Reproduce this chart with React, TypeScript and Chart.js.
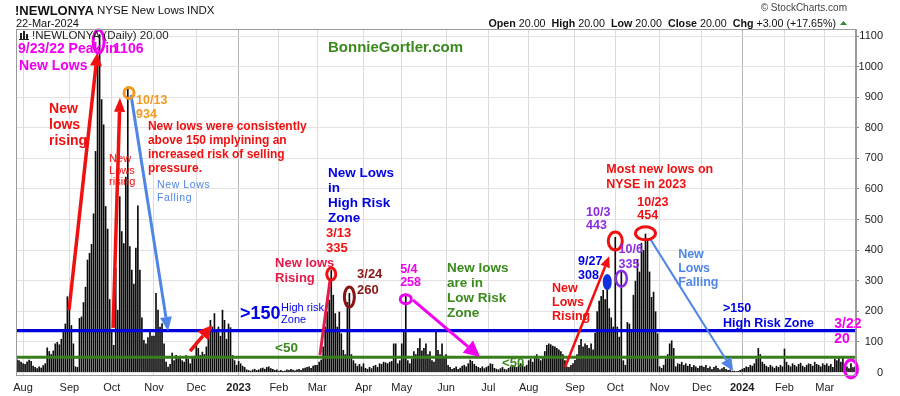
import React, { useEffect, useRef } from "react";
import { Chart, registerables } from "chart.js";

Chart.register(...registerables);

const FONT = "'Liberation Sans', Arial, Helvetica, sans-serif";

// ---------------- data: NYSE new lows, daily (one array per month) ----------------
const jul22 = [43, 40, 35];
const aug22 = [30, 28, 36, 42, 38, 22, 18, 14, 20, 16, 24, 30, 82, 70, 60, 72, 95, 100, 92, 110, 135, 160, 249];
const sep22 = [205, 155, 95, 20, 18, 178, 183, 230, 280, 369, 391, 420, 520, 724, 1020, 1106, 893, 811, 544, 470, 240];
const oct22 = [140, 90, 342, 205, 576, 462, 423, 640, 934, 413, 336, 290, 408, 546, 336, 180, 106, 95, 115, 140, 120];
const nov22 = [120, 260, 205, 150, 161, 95, 35, 19, 28, 65, 40, 57, 47, 55, 40, 35, 57, 45, 30, 50, 55];
const dec22 = [101, 80, 57, 68, 60, 85, 120, 172, 150, 194, 135, 150, 120, 205, 172, 110, 160, 148, 57, 40, 25];
const jan23 = [38, 30, 22, 18, 10, 8, 6, 10, 12, 8, 10, 14, 16, 12, 18, 20, 14, 12, 8, 10];
const feb23 = [6, 8, 5, 6, 10, 8, 12, 9, 7, 10, 12, 8, 14, 16, 18, 20, 15, 22, 25];
const mar23 = [25, 35, 42, 85, 150, 200, 238, 335, 254, 194, 150, 199, 128, 74, 60, 230, 260, 60, 40, 30, 22, 28, 20];
const apr23 = [30, 15, 12, 18, 14, 22, 25, 18, 30, 28, 35, 33, 30, 35, 38, 95, 95, 30, 40];
const may23 = [95, 140, 258, 40, 30, 45, 70, 60, 80, 112, 72, 80, 95, 60, 70, 40, 35, 139, 74, 60, 95, 55];
const jun23 = [60, 25, 18, 12, 15, 20, 12, 16, 22, 25, 20, 30, 42, 38, 28, 22, 18, 15, 20, 14, 18];
const jul23 = [22, 30, 28, 15, 12, 10, 14, 18, 12, 10, 15, 20, 25, 22, 18, 24, 30, 28, 20, 25];
const aug23 = [40, 45, 35, 52, 60, 45, 40, 50, 70, 90, 95, 92, 88, 85, 80, 75, 70, 60, 40, 20, 18, 25, 30];
const sep23 = [41, 60, 90, 110, 85, 95, 90, 80, 95, 75, 130, 200, 235, 250, 270, 240, 308, 210, 180, 150];
const oct23 = [443, 150, 117, 335, 40, 25, 165, 160, 140, 254, 300, 371, 330, 424, 400, 454, 434, 330, 247, 264, 200, 128];
const nov23 = [20, 15, 25, 45, 60, 95, 105, 80, 20, 30, 28, 35, 25, 30, 22, 28, 18, 25, 20, 15, 22];
const dec23 = [22, 18, 25, 15, 20, 12, 18, 22, 15, 10, 14, 18, 12, 8, 10, 5, 6, 4, 5, 8];
const jan24 = [12, 15, 20, 18, 25, 22, 30, 45, 80, 60, 35, 28, 22, 18, 25, 20, 15, 22, 18, 25, 20];
const feb24 = [78, 35, 25, 20, 30, 25, 20, 28, 32, 22, 18, 25, 30, 28, 22, 35, 28, 25, 20, 30];
const mar24 = [25, 30, 22, 28, 18, 45, 40, 52, 35, 48, 25, 20, 14, 30, 17, 20];

const monthSeries = [jul22, aug22, sep22, oct22, nov22, dec22, jan23, feb23, mar23, apr23, may23, jun23,
  jul23, aug23, sep23, oct23, nov23, dec23, jan24, feb24, mar24];
const monthTickLabels = ["", "Aug", "Sep", "Oct", "Nov", "Dec", "2023", "Feb", "Mar", "Apr", "May", "Jun",
  "Jul", "Aug", "Sep", "Oct", "Nov", "Dec", "2024", "Feb", "Mar"];
const yearLabels = ["2023", "2024"];

const yTickValues = [0, 50, 100, 150, 200, 250, 300, 350, 400, 450, 500, 550, 600, 650, 700, 750, 800, 850, 900, 950, 1000, 1050, 1100];
const yMin = -8;
const yMax = 1123;
const highRiskLevel = 137;
const lowRiskLevel = 50;

const symbolName = "!NEWLONYA";
const symbolDesc = "NYSE New Lows";
const exchange = "INDX";
const asOfDate = "22-Mar-2024";
const lastOpen = "20.00";
const lastHigh = "20.00";
const lastLow = "20.00";
const lastClose = "20.00";
const lastChange = "+3.00 (+17.65%)";

// ---------------- annotation styles ----------------
const RED = "#f01010";
const MAGENTA = "#f000f0";
const ORANGE = "#f39a1e";
const CORNFLOWER = "#4f86e6";
const BLUE = "#0000e6";
const GREEN = "#3a8a1c";
const PURPLE = "#8a2be2";
const CRIMSON = "#e6194b";
const MAROON = "#8b1414";

// annotations anchored in data space: [bar index, value]
const textNotes = [
  { lines: ["9/23/22 Peak in"], at: [0.5, 1045], size: 14, bold: true, color: MAGENTA, lh: 0 },
  { lines: ["1106"], at: [47.7, 1045], size: 14, bold: true, color: MAGENTA, lh: 0 },
  { lines: ["New Lows"], at: [1.0, 989], size: 14, bold: true, color: MAGENTA, lh: 0 },
  { lines: ["New", "lows", "rising"], at: [15.9, 848], size: 14, bold: true, color: RED, lh: 16 },
  { lines: ["New", "Lows", "rising"], at: [45.7, 688], size: 11, bold: false, color: RED, lh: 11.5 },
  { lines: ["10/13", "934"], at: [59.1, 878], size: 12.5, bold: true, color: ORANGE, lh: 14 },
  { lines: ["New lows were consistently", "above 150 implyining an", "increased risk of selling", "pressure."], at: [65.0, 792], size: 12, bold: true, color: RED, lh: 14 },
  { lines: ["New Lows", "Falling"], at: [69.5, 602], size: 10.5, bold: false, color: CORNFLOWER, lh: 13, spacing: 0.6 },
  { lines: ["BonnieGortler.com"], at: [154.4, 1048], size: 15, bold: true, color: GREEN, lh: 0 },
  { lines: ["New Lows", "in", "High Risk", "Zone"], at: [154.4, 640], size: 13.5, bold: true, color: BLUE, lh: 15 },
  { lines: ["3/13", "335"], at: [153.4, 443], size: 13, bold: true, color: RED, lh: 15 },
  { lines: ["New lows", "Rising"], at: [128.1, 345], size: 13, bold: true, color: CRIMSON, lh: 15 },
  { lines: ["3/24", "260"], at: [168.8, 310], size: 13, bold: true, color: MAROON, lh: 16 },
  { lines: ["5/4", "258"], at: [190.2, 326], size: 12.5, bold: true, color: MAGENTA, lh: 13.5 },
  { lines: ["New lows", "are in", "Low Risk", "Zone"], at: [213.5, 328], size: 13.5, bold: true, color: GREEN, lh: 15 },
  { lines: [">150"], at: [110.7, 175], size: 18, bold: true, color: BLUE, lh: 0 },
  { lines: ["High risk", "Zone"], at: [131.1, 201], size: 11, bold: false, color: BLUE, lh: 12 },
  { lines: ["<50"], at: [128.1, 67], size: 13.5, bold: true, color: GREEN, lh: 0 },
  { lines: ["<50"], at: [240.8, 18], size: 13, bold: true, color: GREEN, lh: 0 },
  { lines: ["New", "Lows", "Rising"], at: [265.6, 263], size: 12.5, bold: true, color: RED, lh: 14 },
  { lines: ["9/27", "308"], at: [278.5, 351], size: 12.5, bold: true, color: BLUE, lh: 14 },
  { lines: ["10/3", "443"], at: [282.5, 513], size: 12.5, bold: true, color: PURPLE, lh: 13.5 },
  { lines: ["10/6", "335"], at: [298.6, 390], size: 12.5, bold: true, color: PURPLE, lh: 15 },
  { lines: ["Most new lows on", "NYSE in 2023"], at: [292.5, 653], size: 12.5, bold: true, color: RED, lh: 15 },
  { lines: ["10/23", "454"], at: [307.9, 546], size: 12.5, bold: true, color: RED, lh: 13.5 },
  { lines: ["New", "Lows", "Falling"], at: [328.2, 374], size: 12.5, bold: true, color: CORNFLOWER, lh: 14 },
  { lines: [">150", "High Risk Zone"], at: [350.5, 198], size: 12.5, bold: true, color: BLUE, lh: 15 },
  { lines: ["3/22", "20"], at: [405.7, 146], size: 14, bold: true, color: MAGENTA, lh: 15 },
];

const ellipseNotes = [
  { at: [40.5, 1082], rx: 5.5, ry: 11.5, color: MAGENTA, lw: 3, fill: false },
  { at: [55.6, 914], rx: 5, ry: 5.5, color: ORANGE, lw: 3, fill: false },
  { at: [156, 322], rx: 4.5, ry: 6, color: RED, lw: 3, fill: false },
  { at: [165, 247], rx: 5, ry: 10, color: MAROON, lw: 3, fill: false },
  { at: [193, 240], rx: 5.5, ry: 4.5, color: MAGENTA, lw: 3, fill: false },
  { at: [293, 296], rx: 3.5, ry: 7, color: "#1030e0", lw: 2, fill: true },
  { at: [297, 430], rx: 7, ry: 9, color: RED, lw: 3, fill: false },
  { at: [300, 307], rx: 5.5, ry: 8, color: PURPLE, lw: 2.5, fill: false },
  { at: [312, 455], rx: 10, ry: 6.5, color: RED, lw: 3, fill: false },
  { at: [414, 12], rx: 6.5, ry: 9, color: MAGENTA, lw: 3, fill: false },
];

const arrowNotes = [
  { from: [25.8, 204], to: [39.9, 1045], color: RED, lw: 3.5, hl: 13, hw: 6 },
  { from: [47.7, 146], to: [51.1, 898], color: RED, lw: 3.5, hl: 14, hw: 5.5 },
  { from: [56.6, 907], to: [75.0, 136], color: CORNFLOWER, lw: 3, hl: 14, hw: 6 },
  { from: [85.9, 70], to: [96.8, 155], color: RED, lw: 3.5, hl: 14, hw: 7 },
  { from: [150.4, 57], to: [155.4, 302], color: CRIMSON, lw: 3, hl: 0, hw: 0 },
  { from: [196.6, 237], to: [229.9, 51], color: MAGENTA, lw: 3, hl: 16, hw: 8 },
  { from: [272.1, 18], to: [294, 380], color: RED, lw: 2.5, hl: 11, hw: 5 },
  { from: [314.3, 437], to: [355.5, 5], color: CORNFLOWER, lw: 2, hl: 13, hw: 6 },
];

// ---------------- build series ----------------
const values: number[] = [];
const labels: string[] = [];
monthSeries.forEach((arr, m) => {
  arr.forEach((v, k) => {
    values.push(v);
    labels.push(k === 0 ? monthTickLabels[m] : "");
  });
});

function font(size: number, bold: boolean) {
  return `${bold ? "bold " : ""}${size}px ${FONT}`;
}

function drawArrow(ctx: CanvasRenderingContext2D, x1: number, y1: number, x2: number, y2: number,
  color: string, lw: number, hl: number, hw: number) {
  const ang = Math.atan2(y2 - y1, x2 - x1);
  const bx = x2 - hl * Math.cos(ang);
  const by = y2 - hl * Math.sin(ang);
  ctx.strokeStyle = color;
  ctx.lineWidth = lw;
  ctx.lineCap = "butt";
  ctx.beginPath();
  ctx.moveTo(x1, y1);
  ctx.lineTo(bx, by);
  ctx.stroke();
  if (hl > 0) {
    ctx.fillStyle = color;
    ctx.beginPath();
    ctx.moveTo(x2, y2);
    ctx.lineTo(bx + hw * Math.sin(ang), by - hw * Math.cos(ang));
    ctx.lineTo(bx - hw * Math.sin(ang), by + hw * Math.cos(ang));
    ctx.closePath();
    ctx.fill();
  }
}

const notesPlugin = {
  id: "notes",
  afterDatasetsDraw(chart: any) {
    const { ctx, chartArea: a, scales } = chart;
    const xs = scales.x;
    const ys = scales.y;
    const X = (i: number) => xs.getPixelForValue(i);
    const Y = (v: number) => ys.getPixelForValue(v);
    ctx.save();
    // risk zone lines
    ctx.lineWidth = 3.2;
    ctx.strokeStyle = "#0000dd";
    ctx.beginPath();
    ctx.moveTo(a.left, Y(highRiskLevel));
    ctx.lineTo(a.right, Y(highRiskLevel));
    ctx.stroke();
    ctx.strokeStyle = "#3a7e1c";
    ctx.beginPath();
    ctx.moveTo(a.left, Y(lowRiskLevel));
    ctx.lineTo(a.right, Y(lowRiskLevel));
    ctx.stroke();

    arrowNotes.forEach((n) => drawArrow(ctx, X(n.from[0]), Y(n.from[1]), X(n.to[0]), Y(n.to[1]), n.color, n.lw, n.hl, n.hw));

    ellipseNotes.forEach((e) => {
      ctx.beginPath();
      ctx.ellipse(X(e.at[0]), Y(e.at[1]), e.rx, e.ry, 0, 0, Math.PI * 2);
      if (e.fill) {
        ctx.fillStyle = e.color;
        ctx.fill();
      }
      ctx.strokeStyle = e.color;
      ctx.lineWidth = e.lw;
      ctx.stroke();
    });

    ctx.textAlign = "left";
    ctx.textBaseline = "alphabetic";
    textNotes.forEach((t: any) => {
      ctx.font = font(t.size, t.bold);
      ctx.fillStyle = t.color;
      (ctx as any).letterSpacing = t.spacing ? `${t.spacing}px` : "0px";
      t.lines.forEach((line: string, k: number) => {
        ctx.fillText(line, X(t.at[0]), Y(t.at[1]) + k * t.lh);
      });
    });
    (ctx as any).letterSpacing = "0px";
    ctx.restore();
  },
  afterDraw(chart: any) {
    const { ctx, chartArea: a } = chart;
    ctx.save();
    // plot frame
    ctx.strokeStyle = "#9a9a9a";
    ctx.lineWidth = 1;
    ctx.strokeRect(Math.round(a.left) + 0.5, Math.round(a.top) + 0.5, Math.round(a.right - a.left) - 1, Math.round(a.bottom - a.top));

    // legend inside plot
    ctx.fillStyle = "#222";
    ctx.fillRect(a.left + 4, a.top + 4, 2, 6);
    ctx.fillRect(a.left + 7, a.top + 2, 2, 8);
    ctx.fillRect(a.left + 10, a.top + 5, 2, 5);
    ctx.fillRect(a.left + 3, a.top + 10, 10, 1);
    ctx.font = font(11.5, false);
    ctx.textAlign = "left";
    ctx.textBaseline = "alphabetic";
    ctx.fillText(`${symbolName} (Daily) ${lastClose}`, a.left + 16, a.top + 10);

    // header
    ctx.fillStyle = "#111";
    ctx.font = font(13, true);
    ctx.fillText(symbolName, 15, 14.5);
    ctx.font = font(11.5, false);
    ctx.fillText(symbolDesc, 97, 13.5);
    ctx.fillText(exchange, 187, 13.5);
    ctx.font = font(11, false);
    ctx.fillText(asOfDate, 16, 27);

    ctx.fillStyle = "#444";
    ctx.font = font(10, false);
    ctx.textAlign = "right";
    ctx.fillText("\u00A9 StockCharts.com", 847, 11);

    const segs: [string, boolean][] = [
      ["Open", true], [` ${lastOpen}  `, false],
      ["High", true], [` ${lastHigh}  `, false],
      ["Low", true], [` ${lastLow}  `, false],
      ["Close", true], [` ${lastClose}  `, false],
      ["Chg", true], [` ${lastChange} `, false],
    ];
    ctx.textAlign = "left";
    const hs = 10.7;
    let total = 0;
    segs.forEach(([s, b]) => { ctx.font = font(hs, b); total += ctx.measureText(s).width; });
    let x = 839 - total;
    ctx.fillStyle = "#111";
    segs.forEach(([s, b]) => { ctx.font = font(hs, b); ctx.fillText(s, x, 27); x += ctx.measureText(s).width; });
    ctx.fillStyle = "#2e8b2e";
    ctx.beginPath();
    ctx.moveTo(x + 1, 25);
    ctx.lineTo(x + 8, 25);
    ctx.lineTo(x + 4.5, 21);
    ctx.closePath();
    ctx.fill();
    ctx.restore();
  },
};

export default function App() {
  const ref = useRef<HTMLCanvasElement | null>(null);
  useEffect(() => {
    if (!ref.current) return;
    const chart = new Chart(ref.current, {
      type: "bar",
      data: {
        labels,
        datasets: [{
          data: values,
          backgroundColor: "#0a0a0a",
          borderWidth: 0,
          barPercentage: 0.82,
          categoryPercentage: 1,
        }],
      },
      options: {
        animation: false,
        responsive: false,
        devicePixelRatio: 1,
        layout: { padding: { left: 16, top: 29, right: 17, bottom: 0 } },
        plugins: { legend: { display: false }, tooltip: { enabled: false } },
        scales: {
          x: {
            type: "category",
            offset: true,
            grid: {
              offset: false,
              drawTicks: false,
              color: (c: any) => (c.tick && yearLabels.includes(labels[c.tick.value]) ? "#b4b4b4" : "#dcdcdc"),
            },
            border: { display: true, color: "#9a9a9a" },
            ticks: {
              autoSkip: false,
              maxRotation: 0,
              minRotation: 0,
              padding: 6,
              color: "#222",
              font: (c: any) => ({
                family: FONT,
                size: 11,
                weight: c.tick && yearLabels.includes(labels[c.tick.value]) ? "bold" : "normal",
              }),
            },
            afterBuildTicks: (s: any) => { s.ticks = s.ticks.filter((t: any) => labels[t.value] !== ""); },
            afterFit: (s: any) => { s.height = 21; },
          },
          y: {
            position: "right",
            min: yMin,
            max: yMax,
            afterBuildTicks: (s: any) => { s.ticks = yTickValues.map((v) => ({ value: v })); },
            grid: { color: "#e2e2e2", tickLength: 3, tickColor: "#888" },
            border: { display: true, color: "#9a9a9a" },
            ticks: {
              padding: 0,
              crossAlign: "far",
              color: "#222",
              font: { family: FONT, size: 11 },
              callback: (v: any) => String(v),
            },
            afterFit: (s: any) => { s.width = 27; },
          },
        },
      } as any,
      plugins: [notesPlugin],
    });
    return () => chart.destroy();
  }, []);
  return (
    <div style={{ position: "fixed", left: 0, top: 0, width: 900, height: 396, background: "#fff" }}>
      <canvas ref={ref} width={900} height={396} style={{ width: 900, height: 396, display: "block" }} />
    </div>
  );
}
